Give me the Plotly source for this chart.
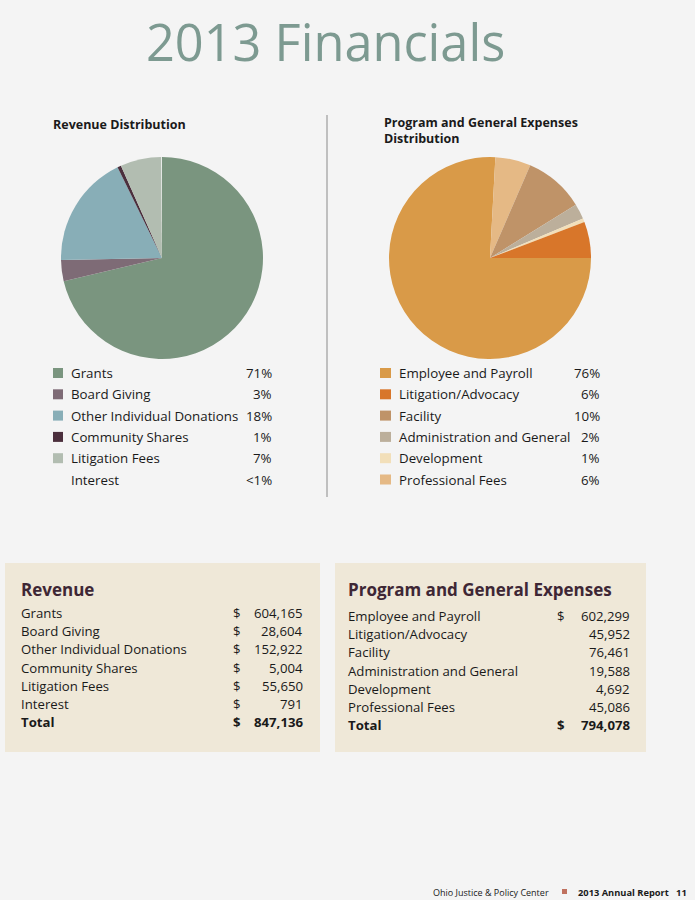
import plotly.graph_objects as go

W, H = 695, 900

# ---------------- data ----------------
rev_labels = ["Grants", "Board Giving", "Other Individual Donations",
              "Community Shares", "Litigation Fees", "Interest"]
rev_values = [604165, 28604, 152922, 5004, 55650, 791]
rev_pct = ["71%", "3%", "18%", "1%", "7%", "<1%"]
rev_colors = ["#7a957f", "#7e6b76", "#88aeb7", "#4b2f3d", "#b2bdb1", "#f4f4f4"]
rev_swatch = [True, True, True, True, True, False]
rev_total = "847,136"

exp_labels = ["Employee and Payroll", "Litigation/Advocacy", "Facility",
              "Administration and General", "Development", "Professional Fees"]
exp_values = [602299, 45952, 76461, 19588, 4692, 45086]
exp_pct = ["76%", "6%", "10%", "2%", "1%", "6%"]
exp_colors = ["#d99a48", "#d8762a", "#bf9368", "#bcaf9b", "#f2dfb9", "#e5b985"]
exp_total = "794,078"
# order of slices drawn clockwise from 3 o'clock
exp_pie_order = [0, 5, 2, 3, 4, 1]

FONT = "Open Sans"
DARK = "#1a1a1a"


def px(x):
    return x / W


def py(y):
    return 1 - y / H


fig = go.Figure()

# ---------------- pies ----------------
R = 101
fig.add_trace(go.Pie(
    labels=rev_labels, values=rev_values, sort=False, direction="clockwise",
    rotation=0, marker=dict(colors=rev_colors, line=dict(width=0)),
    textinfo="none", hoverinfo="label+value+percent", showlegend=False,
    domain=dict(x=[px(162 - R), px(162 + R)], y=[py(258 + R), py(258 - R)]),
))
fig.add_trace(go.Pie(
    labels=[exp_labels[i] for i in exp_pie_order],
    values=[exp_values[i] for i in exp_pie_order],
    sort=False, direction="clockwise", rotation=90,
    marker=dict(colors=[exp_colors[i] for i in exp_pie_order], line=dict(width=0)),
    textinfo="none", hoverinfo="label+value+percent", showlegend=False,
    domain=dict(x=[px(490 - R), px(490 + R)], y=[py(258 + R), py(258 - R)]),
))

ann = []
shapes = []


def text(x, y, s, size=13, color=DARK, anchor="left", bold=False,
         family=FONT, yanchor="middle"):
    if bold:
        s = "<b>" + s + "</b>"
    ann.append(dict(x=px(x), y=py(y), xref="paper", yref="paper", text=s,
                    showarrow=False, xanchor=anchor, yanchor=yanchor,
                    align="left",
                    font=dict(size=size, color=color, family=family)))


def rect(x0, y0, x1, y1, color):
    shapes.append(dict(type="rect", xref="paper", yref="paper",
                       x0=px(x0), x1=px(x1), y0=py(y1), y1=py(y0),
                       fillcolor=color, line=dict(width=0), layer="below"))


# title
text(325, 42, "2013 Financials", size=50.5, color="#7d9a91", anchor="center")

# chart headings
text(51, 125, "Revenue Distribution", size=12.5, bold=True)
text(382, 112, "<b>Program and General Expenses<br>Distribution</b>",
     size=12.5, yanchor="top")

# divider
shapes.append(dict(type="line", xref="paper", yref="paper",
                   x0=px(327), x1=px(327), y0=py(115), y1=py(497),
                   line=dict(color="#8a8a8a", width=1)))

# legends
row_h = 21.3
for i, lab in enumerate(rev_labels):
    y = 373 + i * row_h
    if rev_swatch[i]:
        rect(53, y - 5, 63, y + 5, rev_colors[i])
    text(69, y, lab, size=13.3)
    text(274, y, rev_pct[i], size=13.3, anchor="right")
for i, lab in enumerate(exp_labels):
    y = 373 + i * row_h
    rect(380, y - 5, 391, y + 5, exp_colors[i])
    text(397, y, lab, size=13.3)
    text(602, y, exp_pct[i], size=13.3, anchor="right")

# tables
BOX = "#efe8d8"
rect(5, 563, 320, 752, BOX)
rect(335, 563, 646, 752, BOX)
HEAD = "#3e2735"
text(19, 589, "Revenue", size=17, color=HEAD, bold=True)
text(346, 589, "Program and General Expenses", size=17, color=HEAD, bold=True)

trow = 18.2
for i, lab in enumerate(rev_labels):
    y = 613 + i * trow
    text(19, y, lab, size=13.2)
    text(231, y, "$", size=13.2)
    text(305, y, f"{rev_values[i]:,}", size=13.2, anchor="right")
yt = 613 + len(rev_labels) * trow
text(19, yt, "Total", size=13.2, bold=True)
text(231, yt, "$", size=13.2, bold=True)
text(305, yt, rev_total, size=13.2, bold=True, anchor="right")

for i, lab in enumerate(exp_labels):
    y = 616 + i * trow
    text(346, y, lab, size=13.2)
    if i == 0:
        text(555, y, "$", size=13.2)
    text(632, y, f"{exp_values[i]:,}", size=13.2, anchor="right")
yt = 616 + len(exp_labels) * trow
text(346, yt, "Total", size=13.2, bold=True)
text(555, yt, "$", size=13.2, bold=True)
text(632, yt, exp_total, size=13.2, bold=True, anchor="right")

# footer
text(551, 892, "Ohio Justice & Policy Center", size=9, anchor="right")
rect(562, 889, 567, 894, "#c0715f")
text(576, 892, "2013 Annual Report&nbsp;&nbsp;&nbsp;11", size=9.3, bold=True)

fig.update_layout(
    width=W, height=H, margin=dict(l=0, r=0, t=0, b=0),
    paper_bgcolor="#f4f4f4", plot_bgcolor="#f4f4f4",
    annotations=ann, shapes=shapes, showlegend=False,
    xaxis=dict(visible=False), yaxis=dict(visible=False),
)

fig.write_html(
    "out.html",
    config={"displayModeBar": False},
    post_script="document.body.style.margin='0';document.body.style.background='#f4f4f4';",
)
